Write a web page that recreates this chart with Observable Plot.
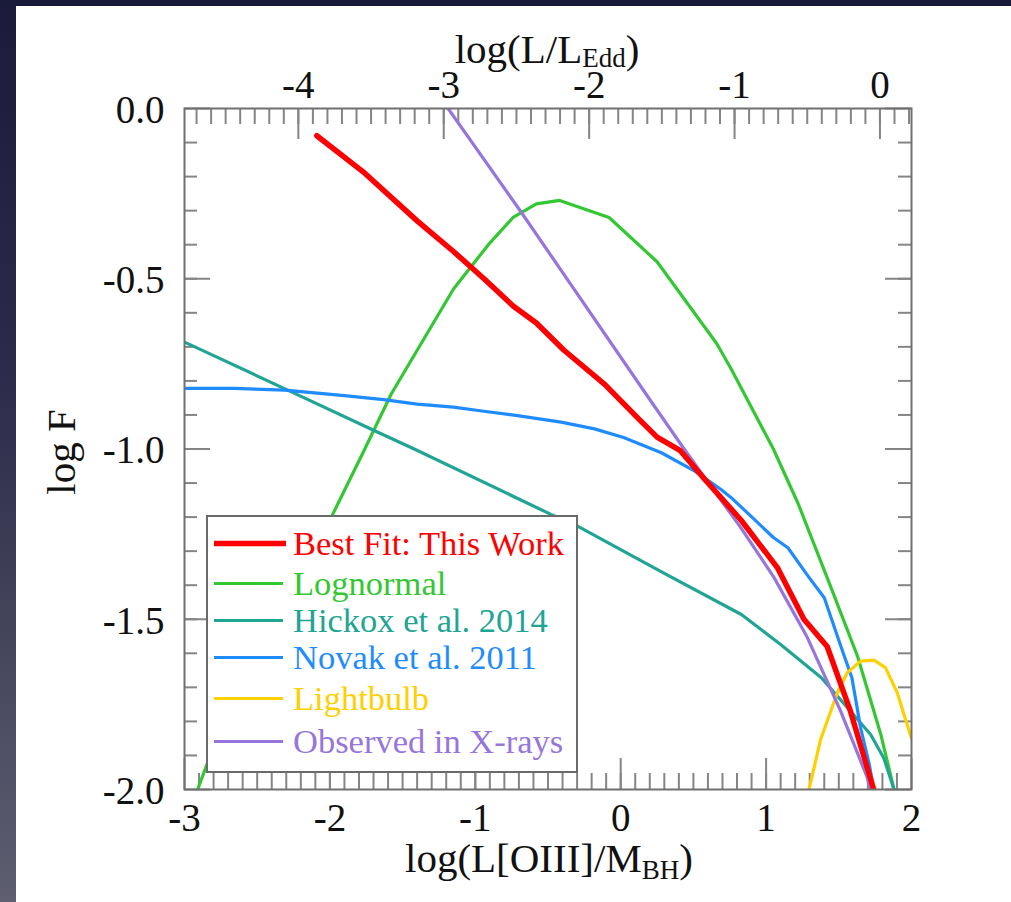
<!DOCTYPE html>
<html>
<head>
<meta charset="utf-8">
<script src="https://cdn.jsdelivr.net/npm/d3@7"></script>
<script src="https://cdn.jsdelivr.net/npm/@observablehq/plot@0.6"></script>
<style>
  html, body { margin: 0; padding: 0; }
  body { width: 1011px; height: 902px; position: relative; overflow: hidden;
         background: linear-gradient(to bottom, #1a1a3a 0%, #2a2a4a 40%, #5e5e70 100%); }
  #panel { position: absolute; left: 16px; top: 6px; right: 0; bottom: 0; background: #fff; }
  #chart { position: absolute; left: 0; top: 0; }
</style>
</head>
<body>
<div id="panel"></div>
<div id="chart"></div>
<script>
const FONT = "'Liberation Serif', 'Times New Roman', serif";

// ---- data ----
const bestFitX = [-2.09,-1.76,-1.40,-1.15,-0.94,-0.74,-0.58,-0.39,-0.11,0.12,0.25,0.41,0.57,0.83,1.08,1.26,1.42,1.58,1.74];
const bestFitY = [-0.08,-0.19,-0.33,-0.42,-0.50,-0.58,-0.63,-0.71,-0.81,-0.91,-0.965,-1.005,-1.085,-1.21,-1.35,-1.50,-1.58,-1.77,-2.0];

const lognormalX = [-2.91,-2.84,-1.99,-1.76,-1.58,-1.15,-0.91,-0.74,-0.58,-0.42,-0.08,0.25,0.66,0.76,1.05,1.22,1.44,1.63,1.79,1.88];
const lognormalY = [-2.0,-1.92,-1.20,-1.0,-0.84,-0.53,-0.40,-0.32,-0.28,-0.27,-0.32,-0.45,-0.69,-0.765,-1.0,-1.16,-1.40,-1.61,-1.84,-2.0];

const hickoxX = [-3.0,-2.29,-1.70,-1.42,-0.48,-0.30,0.30,0.83,1.10,1.38,1.56,1.72,1.81,1.88];
const hickoxY = [-0.686,-0.827,-0.945,-1.0,-1.192,-1.226,-1.365,-1.486,-1.574,-1.672,-1.76,-1.839,-1.908,-2.0];

const novakX = [-3.0,-2.66,-2.31,-1.90,-1.63,-1.40,-1.15,-0.98,-0.71,-0.41,-0.18,0.02,0.28,0.51,0.69,0.76,0.89,1.05,1.15,1.28,1.40,1.51,1.59,1.65,1.71,1.74];
const novakY = [-0.822,-0.822,-0.827,-0.843,-0.855,-0.868,-0.877,-0.887,-0.902,-0.921,-0.941,-0.966,-1.011,-1.065,-1.119,-1.143,-1.195,-1.26,-1.29,-1.368,-1.437,-1.574,-1.672,-1.819,-1.927,-2.0];

const lightbulbX = [1.295,1.375,1.49,1.558,1.65,1.741,1.821,1.902,2.0];
const lightbulbY = [-2.0,-1.853,-1.716,-1.657,-1.623,-1.62,-1.642,-1.716,-1.85];

const xrayX = [-1.187,-0.685,0.207,0.436,0.826,1.054,1.283,1.512,1.695,1.718];
const xrayY = [0.0,-0.304,-0.859,-1.0,-1.231,-1.377,-1.553,-1.769,-1.964,-2.0];

const seriesNames = ["Best Fit: This Work","Lognormal","Hickox et al. 2014","Novak et al. 2011","Lightbulb","Observed in X-rays"];
const seriesColors = ["#ff0000","#33c833","#20a595","#1e8cff","#ffd000","#9676dc"];
const seriesWidths = [5.5,3.2,3.2,3.2,3.2,3.2];

// ticks
const bottomTickValues = [-3,-2,-1,0,1,2];
const bottomTickLabels = ["-3","-2","-1","0","1","2"];
const topTickValues = [-4,-3,-2,-1,0];
const topTickLabels = ["-4","-3","-2","-1","0"];
const topOffset = 1.783; // log(L/LEdd) = x - offset
const yTickValues = [0,-0.5,-1,-1.5,-2];
const yTickLabels = ["0.0","-0.5","-1.0","-1.5","-2.0"];

const bottomMinor = d3.range(-29, 20).map(i => i / 10);
const topMinor = d3.range(-47, 3).map(i => i / 10 + topOffset);
const yMinor = d3.range(-19, 0).map(i => i / 10);

// ---- build series table ----
const seriesXY = [[bestFitX,bestFitY],[lognormalX,lognormalY],[hickoxX,hickoxY],[novakX,novakY],[lightbulbX,lightbulbY],[xrayX,xrayY]];
const tables = seriesXY.map(([xs, ys], k) => xs.map((x, i) => ({x, y: ys[i], k})));
const drawOrder = [1,2,3,4,5,0];

const W = 1011, H = 902, mL = 184, mR = 100, mT = 108, mB = 113;
const innerW = W - mL - mR, innerH = H - mT - mB;
const tickColor = "#858585";

const chart = Plot.plot({
  width: W, height: H,
  marginLeft: mL, marginRight: mR, marginTop: mT, marginBottom: mB,
  x: {domain: [-3, 2], axis: null},
  y: {domain: [-2, 0], axis: null},
  style: {background: "transparent", fontFamily: FONT, overflow: "visible"},
  marks: [
    // inward ticks
    Plot.tickX(bottomMinor, {x: d => d, insetTop: innerH - 16, stroke: tickColor, strokeWidth: 2}),
    Plot.tickX(bottomTickValues, {x: d => d, insetTop: innerH - 31, stroke: tickColor, strokeWidth: 2}),
    Plot.tickX(topMinor, {x: d => d, insetBottom: innerH - 16, stroke: tickColor, strokeWidth: 2}),
    Plot.tickX(topTickValues, {x: d => d + topOffset, insetBottom: innerH - 31, stroke: tickColor, strokeWidth: 2}),
    Plot.tickY(yMinor, {y: d => d, insetRight: innerW - 13, stroke: tickColor, strokeWidth: 2}),
    Plot.tickY(yTickValues, {y: d => d, insetRight: innerW - 26, stroke: tickColor, strokeWidth: 2}),
    Plot.tickY(yMinor, {y: d => d, insetLeft: innerW - 13, stroke: tickColor, strokeWidth: 2}),
    Plot.tickY(yTickValues, {y: d => d, insetLeft: innerW - 26, stroke: tickColor, strokeWidth: 2}),
    // curves
    ...drawOrder.map(k => Plot.line(tables[k], {x: "x", y: "y", stroke: seriesColors[k], strokeWidth: seriesWidths[k], clip: true})),
    Plot.frame({stroke: "#707070", strokeWidth: 2}),
    // tick labels
    Plot.text(bottomTickValues, {x: d => d, text: (d, i) => bottomTickLabels[i], frameAnchor: "bottom", lineAnchor: "bottom", dy: 41, fontSize: 39, fill: "#111"}),
    Plot.text(topTickValues, {x: d => d + topOffset, text: (d, i) => topTickLabels[i], frameAnchor: "top", lineAnchor: "bottom", dy: -11, fontSize: 39, fill: "#111"}),
    Plot.text(yTickValues, {y: d => d, text: (d, i) => yTickLabels[i], frameAnchor: "left", textAnchor: "end", lineAnchor: "middle", dx: -20, dy: 2, fontSize: 39, fill: "#111"})
  ]
});
document.getElementById("chart").appendChild(chart);

const svg = d3.select(chart);
// axis titles
function title(x, y, main, sub, tail, rotate, subShift) {
  const t = svg.append("text")
    .attr("text-anchor", "middle").attr("font-family", FONT).attr("font-size", 41).attr("fill", "#111")
    .attr("transform", `translate(${x},${y})` + (rotate ? " rotate(-90)" : ""));
  t.append("tspan").text(main);
  if (sub) {
    t.append("tspan").attr("font-size", 27).attr("dy", subShift).text(sub);
    t.append("tspan").attr("dy", -subShift).text(tail);
  }
}
title(547, 63, "log(L/L", "Edd", ")", false, 4);
title(549, 872, "log(L[OIII]/M", "BH", ")", false, 7);
title(75, 452, "log F", null, null, true, 0);

// legend
const lg = svg.append("g").attr("text-anchor", "start");
lg.append("rect").attr("x", 207).attr("y", 516).attr("width", 370).attr("height", 256)
  .attr("fill", "#fff").attr("stroke", "#6a6a6a").attr("stroke-width", 2);
const baselines = [555, 595, 632, 669, 710, 753];
seriesNames.forEach((name, i) => {
  lg.append("line").attr("x1", 214).attr("x2", i === 0 ? 286 : 283)
    .attr("y1", baselines[i] - 11.5).attr("y2", baselines[i] - 11.5)
    .attr("stroke", seriesColors[i]).attr("stroke-width", seriesWidths[i]);
  lg.append("text").attr("x", 293).attr("y", baselines[i]).attr("text-anchor", "start")
    .attr("font-family", FONT).attr("font-size", 34.5).attr("fill", seriesColors[i]).text(name);
});
</script>
</body>
</html>
